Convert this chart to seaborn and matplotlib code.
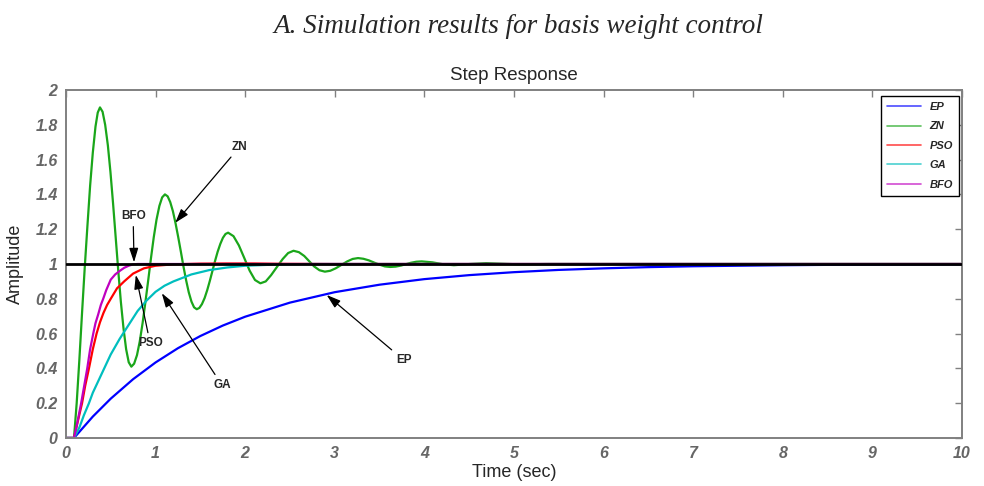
import matplotlib
matplotlib.use("Agg")
import matplotlib.pyplot as plt
import pandas as pd
import seaborn as sns

# step responses (time in sec, amplitude)
ep_t = [0, 0.09, 0.3, 0.5, 0.75, 1.0, 1.25, 1.5, 1.75, 2.0, 2.5, 3.0, 3.5, 4.0, 4.5,
        5.0, 5.5, 6.0, 6.5, 7.0, 7.5, 8.0, 8.5, 9.0, 10.0]
ep_y = [0, 0, 0.123, 0.226, 0.338, 0.434, 0.516, 0.586, 0.646, 0.697, 0.778, 0.838,
        0.881, 0.913, 0.936, 0.953, 0.966, 0.975, 0.982, 0.987, 0.990, 0.993, 0.995,
        0.996, 0.998]

zn_t = [0, 0.09, 0.12, 0.15, 0.18, 0.21, 0.24, 0.27, 0.30, 0.33, 0.355, 0.38,
        0.409, 0.438, 0.468, 0.497, 0.526, 0.555, 0.584, 0.613, 0.643, 0.672, 0.701, 0.73,
        0.761, 0.793, 0.824, 0.855, 0.886, 0.918, 0.949, 0.98, 1.011, 1.043, 1.074, 1.105,
        1.135, 1.164, 1.194, 1.223, 1.253, 1.283, 1.312, 1.342, 1.371, 1.401, 1.43, 1.46,
        1.489, 1.518, 1.548, 1.577, 1.606, 1.635, 1.664, 1.693, 1.723, 1.752, 1.781, 1.81,
        1.87, 1.93, 1.99, 2.05, 2.11, 2.17,
        2.23, 2.29, 2.355, 2.42, 2.48, 2.54,
        2.60, 2.66, 2.715, 2.77, 2.83, 2.89,
        2.95, 3.01, 3.075, 3.14, 3.20, 3.26,
        3.32, 3.38, 3.44, 3.50, 3.56, 3.62,
        3.68, 3.74, 3.795, 3.85, 3.91, 3.97,
        4.09, 4.15, 4.21, 4.33, 4.51, 4.69, 5.05, 5.4, 10.0]
zn_y = [0, 0, 0.2, 0.45, 0.72, 0.98, 1.22, 1.45, 1.64, 1.79, 1.87, 1.90,
        1.875, 1.80, 1.682, 1.528, 1.348, 1.155, 0.962, 0.783, 0.628, 0.510, 0.435, 0.41,
        0.427, 0.476, 0.555, 0.658, 0.777, 0.905, 1.033, 1.153, 1.255, 1.334, 1.383, 1.40,
        1.389, 1.356, 1.303, 1.235, 1.155, 1.07, 0.985, 0.905, 0.837, 0.784, 0.751, 0.74,
        0.7475, 0.7695, 0.8045, 0.85, 0.903, 0.96, 1.017, 1.07, 1.1155, 1.1505, 1.1725, 1.18,
        1.16, 1.107, 1.035, 0.962, 0.908, 0.889,
        0.90, 0.936, 0.983, 1.029, 1.063, 1.076,
        1.068, 1.046, 1.016, 0.986, 0.964, 0.956,
        0.961, 0.975, 0.995, 1.015, 1.029, 1.034,
        1.030, 1.021, 1.008, 0.996, 0.986, 0.983,
        0.985, 0.991, 0.999, 1.007, 1.013, 1.015,
        1.0095, 1.004, 0.9985, 0.993, 1.0, 1.005, 0.998, 1.0, 1.0]

pso_t = [0, 0.09, 0.13, 0.18, 0.215, 0.257, 0.3, 0.342, 0.38, 0.42, 0.46, 0.5, 0.57,
         0.65, 0.75, 0.87, 1.0, 1.2, 1.5, 1.8, 2.1, 2.4, 3.0, 10.0]
pso_y = [0, 0, 0.09, 0.2, 0.3, 0.4, 0.51, 0.6, 0.665, 0.72, 0.765, 0.8, 0.86,
         0.9, 0.945, 0.975, 0.99, 0.998, 1.002, 1.003, 1.003, 1.001, 1.0, 1.0]

ga_t = [0, 0.09, 0.15, 0.2, 0.257, 0.3, 0.4, 0.5, 0.6, 0.7, 0.8, 0.9, 1.0, 1.1, 1.2,
        1.4, 1.6, 1.8, 2.0, 2.3, 2.7, 10.0]
ga_y = [0, 0, 0.06, 0.13, 0.2, 0.26, 0.37, 0.48, 0.57, 0.65, 0.73, 0.79, 0.84, 0.875,
        0.9, 0.94, 0.965, 0.98, 0.99, 0.996, 1.0, 1.0]

bfo_t = [0, 0.09, 0.12, 0.17, 0.238, 0.27, 0.305, 0.33, 0.36, 0.39, 0.416, 0.45, 0.5,
         0.55, 0.6, 0.65, 0.7, 0.75, 0.8, 10.0]
bfo_y = [0, 0, 0.07, 0.2, 0.4, 0.51, 0.6, 0.66, 0.71, 0.765, 0.8, 0.85, 0.91,
         0.94, 0.96, 0.978, 0.99, 0.998, 1.0, 1.0]

ref_t = [0, 10]
ref_y = [1, 1]

methods = ["EP", "ZN", "PSO", "GA", "BFO"]
colors = ["#0000ff", "#1aa61a", "#ff0000", "#00bebe", "#bf00bf"]

frames = []
for name, t, y in zip(methods, [ep_t, zn_t, pso_t, ga_t, bfo_t],
                      [ep_y, zn_y, pso_y, ga_y, bfo_y]):
    frames.append(pd.DataFrame({"time": t, "amp": y, "method": name}))
df = pd.concat(frames, ignore_index=True)

sns.set_style("white")
plt.rcParams["font.family"] = ["Liberation Sans", "DejaVu Sans"]

fig = plt.figure(figsize=(9.84, 4.86), dpi=100)
ax = fig.add_axes([0.067, 0.0988, 0.9106, 0.716])

sns.lineplot(data=df, x="time", y="amp", hue="method", hue_order=methods,
             palette=dict(zip(methods, colors)), estimator=None, sort=False,
             linewidth=1.6, ax=ax)
ax.plot(ref_t, ref_y, color="black", lw=2.0, zorder=5)

ax.set_xlim(0, 10)
ax.set_ylim(0, 2)
ax.set_xticks(range(0, 11))
ax.set_yticks([0, 0.2, 0.4, 0.6, 0.8, 1, 1.2, 1.4, 1.6, 1.8, 2])
ax.set_yticklabels(["0", "0.2", "0.4", "0.6", "0.8", "1", "1.2", "1.4", "1.6", "1.8", "2"])
ax.tick_params(direction="in", length=5, width=1, colors="#808080",
               top=True, right=True, labelsize=11.5, pad=6)
for lab in ax.get_xticklabels() + ax.get_yticklabels():
    lab.set_fontweight("bold")
    lab.set_fontstyle("italic")
    lab.set_color("#666666")
for sp in ax.spines.values():
    sp.set_color("#808080")
    sp.set_linewidth(1.4)

ax.set_xlabel("Time (sec)", fontsize=13, labelpad=2)
ax.set_ylabel("Amplitude", fontsize=13, labelpad=8)
ax.set_title("Step Response", fontsize=13.5, pad=7)

fig.text(0.527, 0.945, "A. Simulation results for basis weight control",
         ha="center", va="center", fontsize=19.5, style="italic",
         family=["Liberation Serif", "DejaVu Serif"])

# annotations with arrows
arrow = dict(arrowstyle="-|>,head_length=1.0,head_width=0.32", color="black",
             lw=0.9, shrinkA=1, shrinkB=0)
notes = [("ZN", (1.22, 1.237), (1.94, 1.674)),
         ("BFO", (0.76, 1.01), (0.75, 1.276)),
         ("PSO", (0.78, 0.937), (0.94, 0.544)),
         ("GA", (1.07, 0.832), (1.74, 0.305)),
         ("EP", (2.91, 0.822), (3.77, 0.448))]
for txt, xy, xytext in notes:
    ax.annotate(txt, xy=xy, xytext=xytext, ha="center", va="center",
                fontsize=8.5, fontweight="bold", arrowprops=arrow, zorder=6)

leg = ax.legend(loc="upper right", bbox_to_anchor=(0.9967, 0.983), borderaxespad=0,
                frameon=True, fancybox=False, edgecolor="black", framealpha=1,
                prop={"size": 8, "weight": "bold", "style": "italic"},
                handlelength=3.0, labelspacing=0.85, borderpad=0.55, handletextpad=0.8)
leg.get_frame().set_linewidth(1.0)
for line in leg.get_lines():
    line.set_linewidth(1.2)
    line.set_alpha(0.7)

fig.savefig("out.png", dpi=100)
